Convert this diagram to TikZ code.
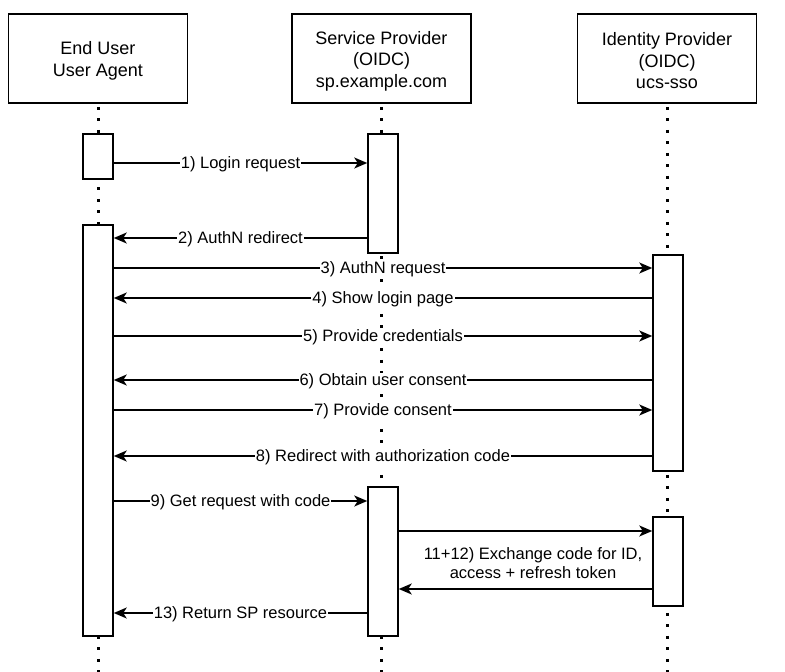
\documentclass[tikz,border=0pt]{standalone}
\usepackage{fontspec}
\setmainfont{Liberation Sans}
\usetikzlibrary{arrows.meta}

\tikzset{
  head/.style={draw, line width=1.5pt, fill=white, minimum width=179pt, minimum height=89pt, inner sep=0pt},
  headtxt/.style={align=center, yshift=-2.5pt, font=\fontsize{18}{21.5}\selectfont},
  bar/.style={draw, line width=1.5pt, fill=white, minimum width=30pt, anchor=north, inner sep=0pt},
  lifeline/.style={line width=3pt, dash pattern=on 3pt off 8.5pt, dash phase=-3pt},
  msg/.style={line width=1.5pt, -{Stealth[length=13pt, width=11pt, inset=3.5pt]}},
  lbl/.style={fill=white, inner sep=1pt, yshift=-1.5pt, align=center, font=\fontsize{16.5}{19.5}\selectfont},
}

\begin{document}
\begin{tikzpicture}[x=1pt, y=-1pt]
			\useasboundingbox (0,0) rectangle (785,672);
			
			\node[head, label={[headtxt]center:{End User\\User Agent}}] (eu) at (98, 58.5) {};
			\node[head, label={[headtxt]center:{Service Provider\\(OIDC)\\sp.example.com}}] (sp) at (381.5, 58.5) {};
			\node[head, label={[headtxt]center:{Identity Provider\\(OIDC)\\ucs-sso}}] (idp) at (667, 58.5) {};
			
			\foreach \n in {eu, sp, idp} {
				\draw[lifeline] (\n.south) -- (\n.south |- 0,672);
			}
			
			\node[bar, minimum height=45pt] (eua) at (98, 133) {};
			\node[bar, minimum height=411pt] (eub) at (98, 224) {};
			\node[bar, minimum height=119pt] (spa) at (383, 133) {};
			\node[bar, minimum height=149pt] (spb) at (383, 486) {};
			\node[bar, minimum height=216pt] (idpa) at (668, 254) {};
			\node[bar, minimum height=89pt] (idpb) at (668, 516) {};
			
			\draw[msg] (eua.east |- 0,163) -- node[lbl] {1) Login request} (spa.west |- 0,163);
			\draw[msg] (spa.west |- 0,238) -- node[lbl] {2) AuthN redirect} (eub.east |- 0,238);
			\draw[msg] (eub.east |- 0,268) -- node[lbl] {3) AuthN request} (idpa.west |- 0,268);
			\draw[msg] (idpa.west |- 0,298) -- node[lbl] {4) Show login page} (eub.east |- 0,298);
			\draw[msg] (eub.east |- 0,336) -- node[lbl] {5) Provide credentials} (idpa.west |- 0,336);
			\draw[msg] (idpa.west |- 0,380) -- node[lbl] {6) Obtain user consent} (eub.east |- 0,380);
			\draw[msg] (eub.east |- 0,410) -- node[lbl] {7) Provide consent} (idpa.west |- 0,410);
			\draw[msg] (idpa.west |- 0,456) -- node[lbl] {8) Redirect with authorization code} (eub.east |- 0,456);
			\draw[msg] (eub.east |- 0,501) -- node[lbl] {9) Get request with code} (spb.west |- 0,501);
			\draw[msg] (spb.east |- 0,531) -- (idpb.west |- 0,531);
			\draw[msg] (idpb.west |- 0,589) -- (spb.east |- 0,589);
			\node[lbl, fill=none] (xchg) at (533, 561.5) {11+12) Exchange code for ID,\\access + refresh token};
			\draw[msg] (spb.west |- 0,613) -- node[lbl] {13) Return SP resource} (eub.east |- 0,613);
			
		\end{tikzpicture}
\end{document}
